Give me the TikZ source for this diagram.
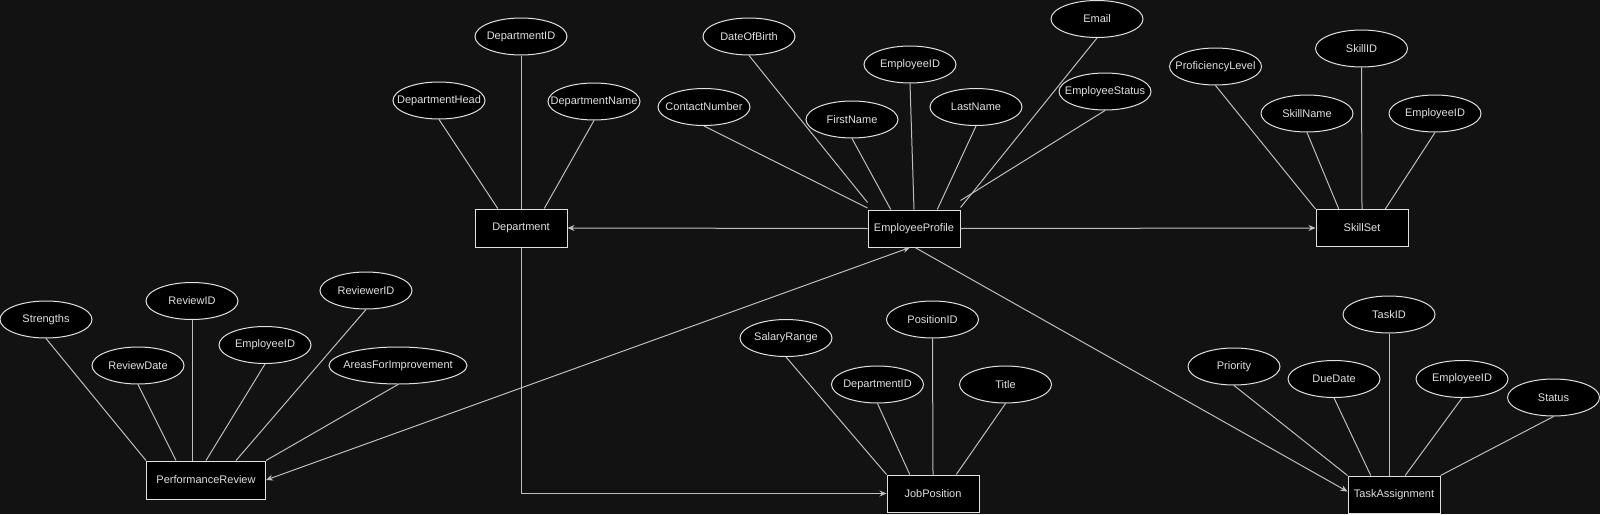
\documentclass[tikz,border=0pt]{standalone}
\usepackage{fontspec}
\setmainfont{Liberation Sans}
\usetikzlibrary{shapes.geometric,calc,arrows.meta,backgrounds}
\definecolor{bgc}{RGB}{18,18,18}
\definecolor{linec}{RGB}{190,190,190}
\definecolor{borderc}{RGB}{225,225,225}
\definecolor{textc}{RGB}{225,225,225}
\newcommand{\zw}[1]{\makebox[0pt]{#1}}
\begin{document}
\begin{tikzpicture}[x=1pt,y=-1pt,
  attr/.style={ellipse,draw=borderc,fill=black,line width=1pt,minimum width=92pt,minimum height=37pt,inner sep=0pt,text=textc,font=\fontsize{11}{13}\selectfont},
  entity/.style={rectangle,draw=borderc,fill=black,line width=1pt,minimum width=92pt,minimum height=37pt,inner sep=0pt,text=textc,font=\fontsize{11}{13}\selectfont},
  link/.style={draw=linec,line width=1pt},
  rel/.style={draw=linec,line width=1pt,-{Stealth[length=7pt,width=6pt]}},
  birel/.style={draw=linec,line width=1pt,{Stealth[length=7pt,width=6pt]}-{Stealth[length=7pt,width=6pt]}}]
\useasboundingbox (0,0) rectangle (1600,514);

% Department
\node[entity,minimum height=38pt] (dept) at (521,228) {Department};
\node[attr] (did) at (521,36.5) {\zw{DepartmentID}};
\node[attr] (dhead) at (439,100.5) {\zw{DepartmentHead}};
\node[attr] (dname) at (594,101.5) {\zw{DepartmentName}};

% EmployeeProfile
\node[entity] (ep) at (914,228.5) {EmployeeProfile};
\node[attr] (contact) at (704,107) {\zw{ContactNumber}};
\node[attr] (dob) at (749,36.5) {\zw{DateOfBirth}};
\node[attr] (eid) at (910,64.5) {\zw{EmployeeID}};
\node[attr] (fname) at (852,119.5) {\zw{FirstName}};
\node[attr] (lname) at (976,107) {\zw{LastName}};
\node[attr] (email) at (1097,19) {\zw{Email}};
\node[attr] (estatus) at (1105,91.5) {\zw{EmployeeStatus}};

% SkillSet
\node[entity] (ss) at (1362,228) {SkillSet};
\node[attr] (prof) at (1215.5,66.5) {\zw{ProficiencyLevel}};
\node[attr] (sid) at (1361.5,48.5) {\zw{SkillID}};
\node[attr] (sname) at (1307,113.5) {\zw{SkillName}};
\node[attr] (seid) at (1435,113.5) {\zw{EmployeeID}};

% PerformanceReview
\node[entity,minimum width=119pt,minimum height=38pt] (pr) at (206,480) {PerformanceReview};
\node[attr] (str) at (46,319.5) {\zw{Strengths}};
\node[attr] (rid) at (192,301) {\zw{ReviewID}};
\node[attr] (rdate) at (138,365.5) {\zw{ReviewDate}};
\node[attr] (reid) at (265,345) {\zw{EmployeeID}};
\node[attr] (rvid) at (366,290.5) {\zw{ReviewerID}};
\node[attr,minimum width=138pt] (afi) at (398,365.5) {\zw{AreasForImprovement}};

% JobPosition
\node[entity] (jp) at (933,493.5) {JobPosition};
\node[attr] (sal) at (786,338) {\zw{SalaryRange}};
\node[attr] (pid) at (932.5,319.5) {\zw{PositionID}};
\node[attr] (jdid) at (877.5,384.5) {\zw{DepartmentID}};
\node[attr] (title) at (1005.5,384.5) {\zw{Title}};

% TaskAssignment
\node[entity] (ta) at (1394,494.5) {TaskAssignment};
\node[attr] (tid) at (1389,314.5) {\zw{TaskID}};
\node[attr] (prio) at (1234,366.5) {\zw{Priority}};
\node[attr] (due) at (1334,379) {\zw{DueDate}};
\node[attr] (teid) at (1462,379) {\zw{EmployeeID}};
\node[attr] (tstat) at (1553.5,397.5) {\zw{Status}};

\begin{pgfonlayer}{background}
\fill[bgc] (0,0) rectangle (1600,514);
% attribute links
\path[link] (did.south) -- (dept.north);
\path[link] (dhead.south) -- ($(dept.north west)!0.25!(dept.north east)$);
\path[link] (dname.south) -- ($(dept.north west)!0.75!(dept.north east)$);

\path[link] (contact.south) -- ($(ep.north west)+(0,-1.5)$);
\path[link] (dob.south) -- ($(ep.north west)+(0,-7)$);
\path[link] (fname.south) -- ($(ep.north west)!0.25!(ep.north east)$);
\path[link] (eid.south) -- (ep.north);
\path[link] (lname.south) -- ($(ep.north west)!0.75!(ep.north east)$);
\path[link] (email.south) -- ($(ep.north east)+(0,-2)$);
\path[link] (estatus.south) -- ($(ep.north east)+(0,-9)$);

\path[link] (prof.south) -- (ss.north west);
\path[link] (sname.south) -- ($(ss.north west)!0.25!(ss.north east)$);
\path[link] (sid.south) -- (ss.north);
\path[link] (seid.south) -- ($(ss.north west)!0.75!(ss.north east)$);

\path[link] (str.south) -- (pr.north west);
\path[link] (rdate.south) -- ($(pr.north west)!0.25!(pr.north east)$);
\path[link] (rid.south) -- (rid.south |- pr.north);
\path[link] (reid.south) -- (pr.north);
\path[link] (rvid.south) -- ($(pr.north west)!0.75!(pr.north east)$);
\path[link] (afi.south) -- (pr.north east);

\path[link] (sal.south) -- (jp.north west);
\path[link] (jdid.south) -- ($(jp.north west)!0.25!(jp.north east)$);
\path[link] (pid.south) -- (jp.north);
\path[link] (title.south) -- ($(jp.north west)!0.75!(jp.north east)$);

\path[link] (prio.south) -- (ta.north west);
\path[link] (due.south) -- ($(ta.north west)!0.25!(ta.north east)$);
\path[link] (tid.south) -- (tid.south |- ta.north);
\path[link] (teid.south) -- ($(ta.north west)!0.62!(ta.north east)$);
\path[link] (tstat.south) -- (ta.north east);
\end{pgfonlayer}

% relationships
\draw[rel] (ep.west) -- (dept.east);
\draw[rel] (ep.east) -- (ss.west);
\draw[birel] (pr.east) -- ([xshift=-4pt]ep.south);
\draw[rel] ([xshift=1pt]ep.south) -- ([yshift=3pt]ta.west);
\draw[rel] (dept.south) |- (jp.west);
\end{tikzpicture}
\end{document}
